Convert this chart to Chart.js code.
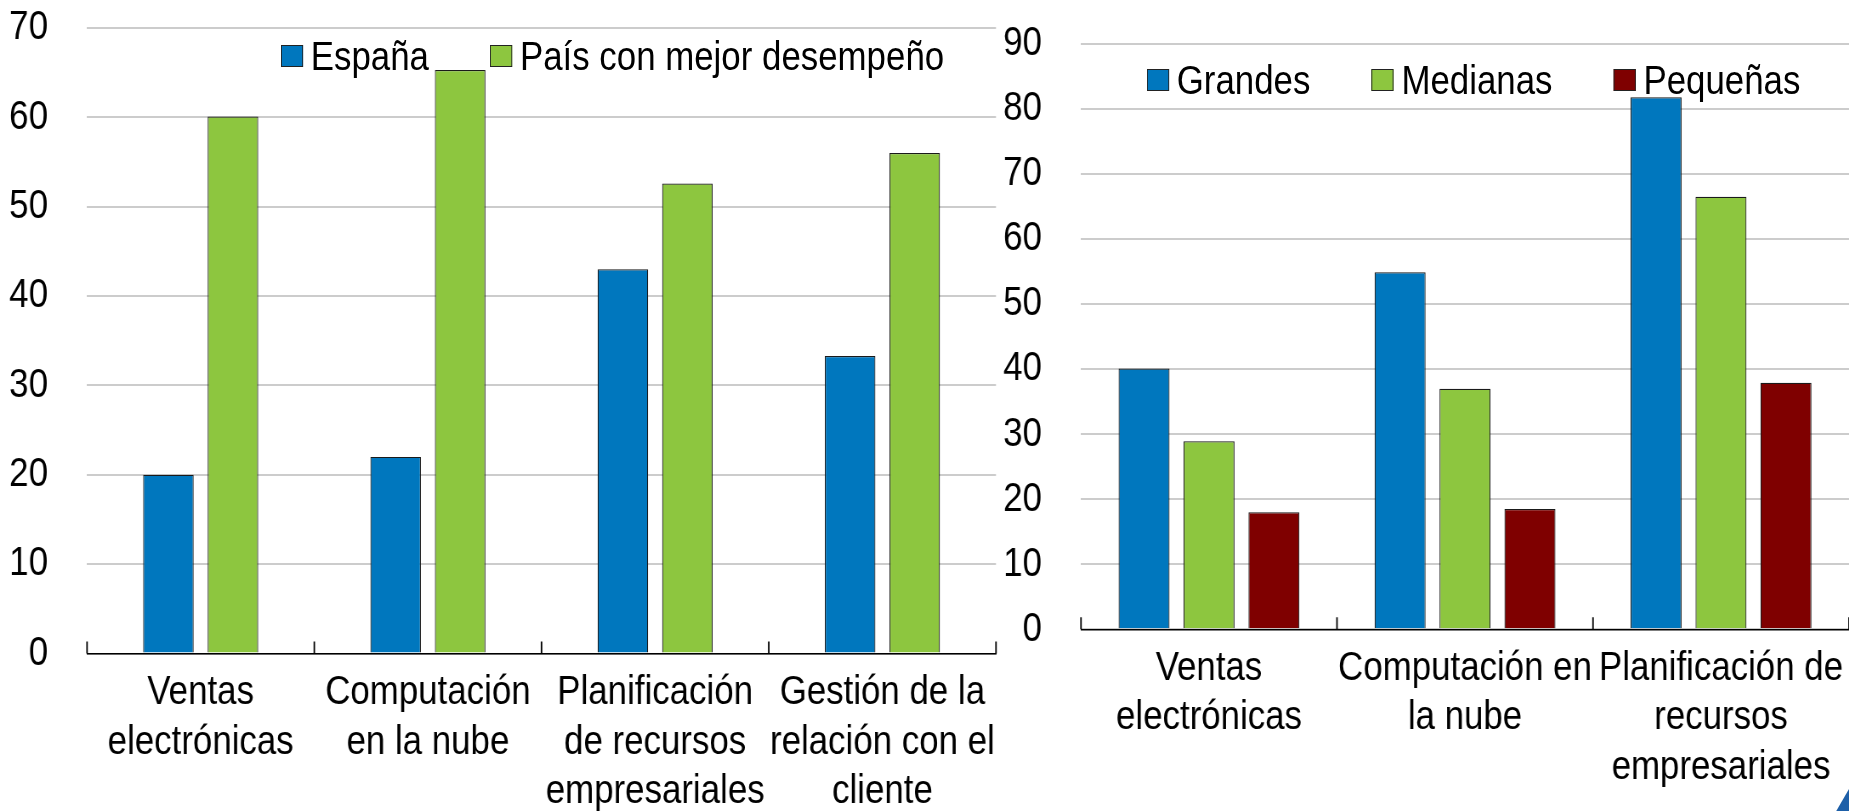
<!DOCTYPE html>
<html lang="es">
<head>
  <meta charset="UTF-8">
  <title>Adopción de tecnologías digitales</title>
  <script src="https://cdn.jsdelivr.net/npm/chart.js"></script>
  <style>
    html, body { margin: 0; padding: 0; background: #fff; }
    body { width: 1849px; height: 811px; position: relative; overflow: hidden;
           font-family: "Liberation Sans", Arial, sans-serif; }
    .panel { position: absolute; top: 0; height: 811px; }
    #left { left: 0; width: 1000px; }
    #right { left: 1000px; width: 849px; }
    /* the original uses a narrow face; squeeze Liberation Sans horizontally */
    #chartLeft { width: 1000px !important; height: 811px !important; }
    #chartRight { width: 849px !important; height: 811px !important; }
    .legend { position: absolute; display: flex; align-items: center; gap: 72px;
              font-size: 41px; line-height: 44px; color: #000; white-space: nowrap;
              transform: scaleX(0.85); transform-origin: 0 0; }
    .legend span.item { display: flex; align-items: center; }
    .legend i { display: inline-block; width: 26px; height: 22px; border: 1px solid #222;
                margin-right: 9px; box-sizing: border-box; }
    #legendLeft { left: 281px; top: 34px; }
    #legendRight { left: 1147px; top: 58px; }
    #corner { position: absolute; left: 1834px; top: 789px; width: 15px; height: 22px;
              background: #1d5fa8; clip-path: polygon(15% 100%, 100% 0, 100% 100%); }
  </style>
</head>
<body>
  <div class="panel" id="left"><canvas id="chartLeft" width="1176" height="811" style="width:1000px;height:811px"></canvas></div>
  <div class="panel" id="right"><canvas id="chartRight" width="999" height="811" style="width:849px;height:811px"></canvas></div>
  <div class="legend" id="legendLeft"></div>
  <div class="legend" id="legendRight"></div>
  <div id="corner"></div>

  <script>
    // left panel: Spain vs best performer
    const leftCategories = [
      ['Ventas', 'electrónicas'],
      ['Computación', 'en la nube'],
      ['Planificación', 'de recursos', 'empresariales'],
      ['Gestión de la', 'relación con el', 'cliente']
    ];
    const espana = [20, 22, 43, 33.3];
    const mejorPais = [60.1, 65.3, 52.6, 56];

    // right panel: by firm size
    const rightCategories = [
      ['Ventas', 'electrónicas'],
      ['Computación en', 'la nube'],
      ['Planificación de', 'recursos', 'empresariales']
    ];
    const grandes = [40.1, 54.9, 81.8];
    const medianas = [28.9, 37, 66.5];
    const pequenas = [18, 18.5, 37.9];

    const BLUE = '#0077be';
    const GREEN = '#8dc63f';
    const RED = '#7f0000';
    const SQ = 0.85; // horizontal squeeze of the canvases

    Chart.defaults.font.family = '"Liberation Sans", Arial, sans-serif';
    Chart.defaults.color = '#000';
    Chart.defaults.animation = false;

    // small tick marks pointing up from the x axis, at category boundaries
    const innerTicks = {
      id: 'innerTicks',
      afterDraw(chart) {
        const x = chart.scales.x;
        const ctx = chart.ctx;
        const y = chart.chartArea.bottom;
        ctx.save();
        ctx.strokeStyle = '#000';
        ctx.lineWidth = 1.8;
        ctx.beginPath();
        for (let i = 0; i <= x.ticks.length; i++) {
          const px = x.getPixelForValue(i - 0.5);
          ctx.moveTo(px, y);
          ctx.lineTo(px, y - 12);
        }
        ctx.stroke();
        ctx.restore();
      }
    };

    function makeChart(id, labels, datasets, yMax, opts) {
      return new Chart(document.getElementById(id), {
        type: 'bar',
        data: {
          labels: labels,
          datasets: datasets.map(d => ({
            label: d.label,
            data: d.data,
            backgroundColor: d.color,
            borderColor: '#1a1a1a',
            borderWidth: 1.2,
            categoryPercentage: opts.cat,
            barPercentage: opts.bar
          }))
        },
        options: {
          responsive: false,
          devicePixelRatio: 1,
          layout: { padding: { top: opts.top, right: opts.right / SQ, left: 0, bottom: 0 } },
          plugins: { legend: { display: false }, tooltip: { enabled: false } },
          scales: {
            x: {
              offset: true,
              grid: { display: false, drawTicks: false },
              border: { display: true, color: '#000', width: 1.5 },
              ticks: {
                autoSkip: false, maxRotation: 0, padding: 15,
                font: { size: 41, lineHeight: 1.2 }
              },
              afterFit(scale) {
                scale.height = opts.xHeight;
                scale.paddingLeft = 0;
                scale.paddingRight = 0;
              }
            },
            y: {
              min: 0, max: yMax,
              grid: { color: '#cccccc', lineWidth: 2, drawTicks: false },
              border: { display: false },
              ticks: { stepSize: 10, padding: 39 / SQ, font: { size: 41 } },
              afterFit(scale) {
                scale.width = opts.yWidth / SQ;
                // keep the label padding from pushing the plot area down
                scale.paddingTop = 0;
                scale.paddingBottom = 0;
              }
            }
          }
        },
        plugins: [innerTicks]
      });
    }

    const left = makeChart('chartLeft', leftCategories, [
      { label: 'España', data: espana, color: BLUE },
      { label: 'País con mejor desempeño', data: mejorPais, color: GREEN }
    ], 70, { cat: 0.568, bar: 0.783, top: 28, right: 4, xHeight: 157.5, yWidth: 87 });

    const right = makeChart('chartRight', rightCategories, [
      { label: 'Grandes', data: grandes, color: BLUE },
      { label: 'Medianas', data: medianas, color: GREEN },
      { label: 'Pequeñas', data: pequenas, color: RED }
    ], 90, { cat: 0.761, bar: 0.785, top: 44, right: 0, xHeight: 181.7, yWidth: 81 });

    // legends built from the datasets, laid over the plot area like the original
    function buildLegend(chart, elId) {
      const el = document.getElementById(elId);
      chart.data.datasets.forEach(ds => {
        const item = document.createElement('span');
        item.className = 'item';
        const box = document.createElement('i');
        box.style.background = ds.backgroundColor;
        item.appendChild(box);
        item.appendChild(document.createTextNode(ds.label));
        el.appendChild(item);
      });
    }
    buildLegend(left, 'legendLeft');
    buildLegend(right, 'legendRight');
  </script>
</body>
</html>
